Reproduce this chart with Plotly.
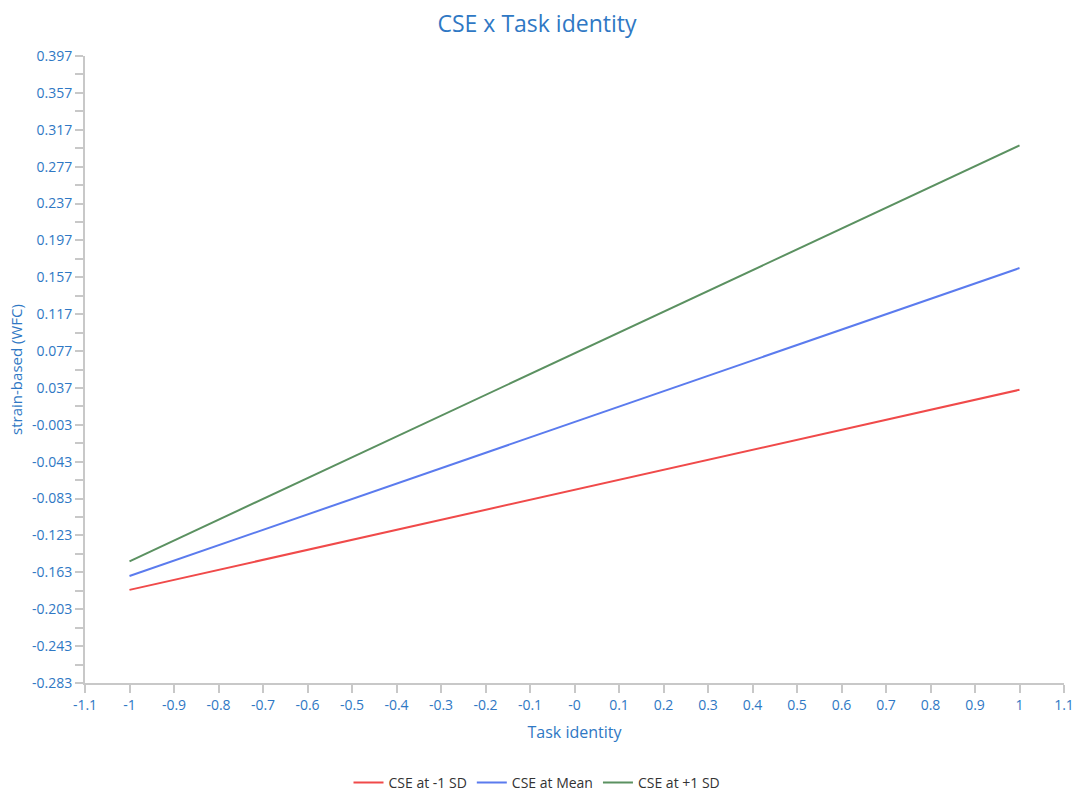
import plotly.graph_objects as go

# Simple slopes of strain-based WFC on task identity at three CSE levels
task_identity = [-1, 1]
cse_low = [-0.182, 0.035]
cse_mean = [-0.167, 0.167]
cse_high = [-0.151, 0.300]

series_names = ["CSE at -1 SD", "CSE at Mean", "CSE at +1 SD"]
series_colors = ["#f04a4a", "#5b7bee", "#5b9161"]

x_tick_vals = [-1.1, -1.0, -0.9, -0.8, -0.7, -0.6, -0.5, -0.4, -0.3, -0.2, -0.1,
               0.0, 0.1, 0.2, 0.3, 0.4, 0.5, 0.6, 0.7, 0.8, 0.9, 1.0, 1.1]
x_tick_text = ["-1.1", "-1", "-0.9", "-0.8", "-0.7", "-0.6", "-0.5", "-0.4", "-0.3", "-0.2", "-0.1",
               "-0", "0.1", "0.2", "0.3", "0.4", "0.5", "0.6", "0.7", "0.8", "0.9", "1", "1.1"]
y_tick_vals = [-0.283, -0.243, -0.203, -0.163, -0.123, -0.083, -0.043, -0.003,
               0.037, 0.077, 0.117, 0.157, 0.197, 0.237, 0.277, 0.317, 0.357, 0.397]
y_tick_text = ["-0.283", "-0.243", "-0.203", "-0.163", "-0.123", "-0.083", "-0.043", "-0.003",
               "0.037", "0.077", "0.117", "0.157", "0.197", "0.237", "0.277", "0.317", "0.357", "0.397"]

blue_text = "#2f78c4"
axis_gray = "#c8c8c8"
font_family = "Open Sans, Noto Sans, sans-serif"

fig = go.Figure()
for name, ys, color in zip(series_names, [cse_low, cse_mean, cse_high], series_colors):
    fig.add_trace(go.Scatter(x=task_identity, y=ys, mode="lines", name=name,
                             line=dict(color=color, width=2)))

fig.update_layout(
    width=1074, height=799,
    margin=dict(l=85, r=10, t=56, b=116, autoexpand=False),
    paper_bgcolor="white", plot_bgcolor="white",
    font=dict(family=font_family, color=blue_text, size=13),
    title=dict(text="CSE x Task identity", x=0.5, xanchor="center",
               y=0.97, yref="container", yanchor="middle",
               font=dict(size=23, color=blue_text, family=font_family)),
    showlegend=True,
    legend=dict(orientation="h", x=0.5, xanchor="center", xref="container",
                y=0.0, yref="container", yanchor="bottom",
                font=dict(size=14, color="#333333"), itemwidth=30),
    xaxis=dict(range=[-1.1, 1.1], tickmode="array", tickvals=x_tick_vals, ticktext=x_tick_text,
               automargin=False,
               showgrid=False, zeroline=False, showline=True, linecolor=axis_gray, linewidth=2,
               ticks="outside", ticklen=8, tickcolor=axis_gray, tickwidth=2,
               tickfont=dict(size=14, color=blue_text),
               title=dict(text="Task identity", font=dict(size=16, color=blue_text), standoff=14)),
    yaxis=dict(range=[-0.283, 0.397], tickmode="array", tickvals=y_tick_vals, ticktext=y_tick_text,
               automargin=False,
               showgrid=False, zeroline=False, showline=True, linecolor=axis_gray, linewidth=2,
               ticks="outside", ticklen=8, tickcolor=axis_gray, tickwidth=2,
               tickfont=dict(size=14, color=blue_text),
               minor=dict(ticks="outside", tick0=-0.283, dtick=0.02, ticklen=8,
                          tickcolor=axis_gray, tickwidth=2),
               title=dict(text="strain-based (WFC)", font=dict(size=15, color=blue_text), standoff=6)),
)

fig.write_html("out.html")
